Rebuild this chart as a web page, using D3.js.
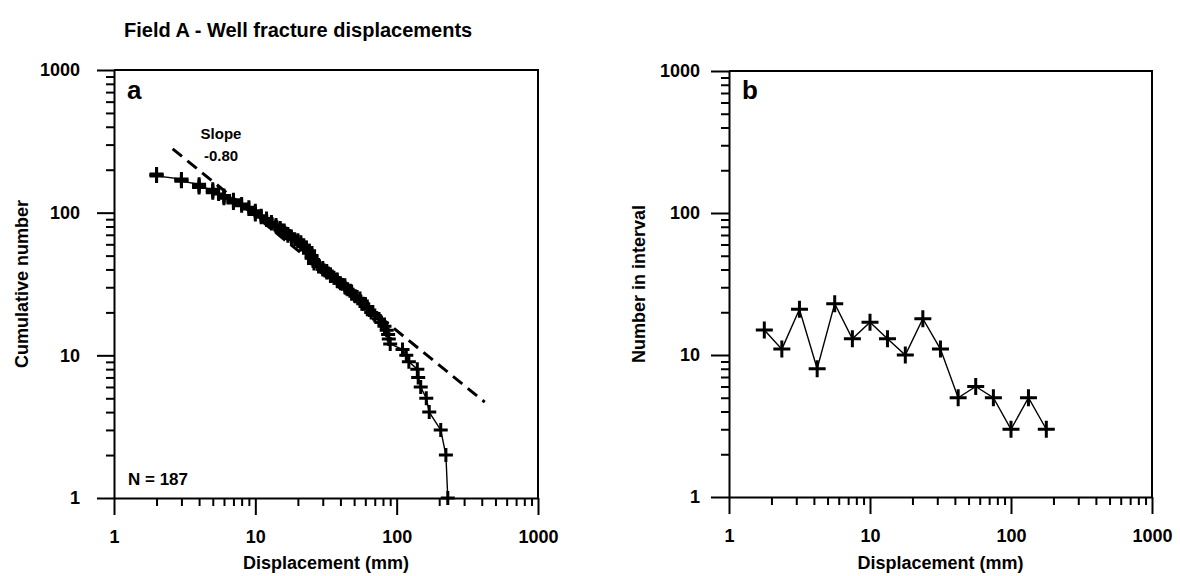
<!DOCTYPE html>
<html>
<head>
<meta charset="utf-8">
<script src="https://cdn.jsdelivr.net/npm/d3@7"></script>
<style>
  body { margin: 0; background: #fff; }
  svg text { font-family: "Liberation Sans", Arial, Helvetica, sans-serif; font-weight: bold; fill: #000; }
</style>
</head>
<body>
<div id="chart"></div>
<script>
// Panel a: cumulative number of fractures vs displacement (mm), one point per fracture
const cumDisp = [2, 2, 2, 3, 3, 3, 4, 4, 4, 5, 5, 5, 5.5, 6, 6, 6, 7, 7, 7, 8, 8, 9, 9,
  10, 10, 10, 11, 11, 12, 12, 13, 13, 14, 14, 15, 15, 16, 16, 17, 17, 18, 18, 19, 20, 20,
  21, 21, 22, 22, 23, 23, 24, 24, 25, 25, 26, 26, 28, 28, 30, 30, 32, 32, 34, 34, 36, 38, 38,
  40, 43, 43, 45, 48, 48, 51, 55, 55, 58, 62, 62, 66, 70, 75, 78, 82, 85, 87, 88, 90,
  110, 117, 122, 140, 142, 148, 162, 170, 205, 223, 230];
const cumCount = [187, 184, 181, 172, 169, 166, 158, 154, 150, 146, 142, 138, 135, 132, 129, 126, 123, 120, 117, 115, 112, 109, 106,
  103, 100, 97, 95, 93, 91, 89, 86, 84, 82, 80, 78, 76, 75, 73, 71, 69, 68, 66, 65, 64, 63,
  62, 60, 59, 58, 57, 55, 54, 52, 50, 48, 46, 44, 43, 42, 41, 40, 39, 38, 37, 36, 35, 34, 33,
  32, 31, 30, 29, 28, 27, 26, 25, 24, 23, 22, 21, 20, 19, 18, 17, 16, 15, 14, 13, 12,
  11, 10, 9, 8, 7, 6, 5, 4, 3, 2, 1];

// fitted power law, drawn between two end points
const slopeDisp = [2.6, 420];
const slopeCount = [280, 4.7];

// Panel b: number in each log interval
const binDisp = [1.78, 2.37, 3.16, 4.22, 5.62, 7.5, 10, 13.3, 17.8, 23.7, 31.6, 42.2, 56.2, 75, 100, 133, 178];
const binCount = [15, 11, 21, 8, 23, 13, 17, 13, 10, 18, 11, 5, 6, 5, 3, 5, 3];

const majorTicks = [1, 10, 100, 1000];
const minorTicks = [2, 3, 4, 5, 6, 7, 8, 9, 20, 30, 40, 50, 60, 70, 80, 90, 200, 300, 400, 500, 600, 700, 800, 900];

const svg = d3.select('#chart').append('svg')
  .attr('width', 1180)
  .attr('height', 576);

svg.append('text')
  .attr('x', 124)
  .attr('y', 37)
  .style('font-size', '20px')
  .text('Field A - Well fracture displacements');

function cross(x, y, s) {
  return 'M' + (x - s) + ',' + y + 'H' + (x + s) + 'M' + x + ',' + (y - s) + 'V' + (y + s);
}

function panel(box, opts) {
  let x = d3.scaleLog().domain([1, 1000]).range([box.left, box.right]);
  let y = d3.scaleLog().domain([1, 1000]).range([box.bottom, box.top]);
  let g = svg.append('g');

  // frame: top and right edges
  g.append('path')
    .attr('d', 'M' + box.left + ',' + box.top + 'H' + box.right + 'V' + box.bottom)
    .attr('fill', 'none')
    .attr('stroke', '#000')
    .attr('stroke-width', 2);

  // x axis, major ticks with labels then minor ticks
  g.append('g')
    .attr('transform', 'translate(0,' + box.bottom + ')')
    .call(d3.axisBottom(x).tickValues(majorTicks).tickFormat(d3.format('d'))
      .tickSize(17).tickSizeOuter(0).tickPadding(15));
  g.append('g')
    .attr('transform', 'translate(0,' + box.bottom + ')')
    .call(d3.axisBottom(x).tickValues(minorTicks).tickFormat('').tickSize(8).tickSizeOuter(0))
    .select('.domain').remove();

  g.append('g')
    .attr('transform', 'translate(' + box.left + ',0)')
    .call(d3.axisLeft(y).tickValues(majorTicks).tickFormat(d3.format('d'))
      .tickSize(opts.yTick).tickSizeOuter(0).tickPadding(opts.yPad));
  g.append('g')
    .attr('transform', 'translate(' + box.left + ',0)')
    .call(d3.axisLeft(y).tickValues(minorTicks).tickFormat('').tickSize(8).tickSizeOuter(0))
    .select('.domain').remove();

  g.selectAll('.domain, .tick line')
    .attr('stroke', '#000')
    .attr('stroke-width', 2);
  g.selectAll('.tick text')
    .style('font-size', '18px')
    .style('font-family', null);

  g.append('text')
    .attr('x', (box.left + box.right) / 2)
    .attr('y', 569)
    .attr('text-anchor', 'middle')
    .style('font-size', '18px')
    .text('Displacement (mm)');

  g.append('text')
    .attr('transform', 'translate(' + opts.titleX + ',' + ((box.top + box.bottom) / 2) + ') rotate(-90)')
    .attr('text-anchor', 'middle')
    .style('font-size', '18px')
    .text(opts.yTitle);

  g.append('text')
    .attr('x', box.left + 13)
    .attr('y', 99)
    .style('font-size', '26px')
    .text(opts.label);

  return {g: g, x: x, y: y};
}

// ---- panel a ----
let pa = panel({left: 114, right: 538, top: 70, bottom: 498},
  {yTick: 17, yPad: 17, titleX: 28, yTitle: 'Cumulative number', label: 'a'});

let cumData = cumDisp.map((d, i) => ({d: d, n: cumCount[i]}));

pa.g.append('path')
  .datum(slopeDisp.map((d, i) => ({d: d, n: slopeCount[i]})))
  .attr('fill', 'none')
  .attr('stroke', '#000')
  .attr('stroke-width', 3)
  .attr('stroke-dasharray', '12,7')
  .attr('d', d3.line().x((p) => pa.x(p.d)).y((p) => pa.y(p.n)));

pa.g.append('path')
  .datum(cumData)
  .attr('fill', 'none')
  .attr('stroke', '#000')
  .attr('stroke-width', 1.4)
  .attr('d', d3.line().x((p) => pa.x(p.d)).y((p) => pa.y(p.n)));

pa.g.append('g')
  .selectAll('path')
  .data(cumData)
  .enter().append('path')
  .attr('fill', 'none')
  .attr('stroke', '#000')
  .attr('stroke-width', 3)
  .attr('d', (p) => cross(pa.x(p.d), pa.y(p.n), 7));

pa.g.append('text')
  .attr('x', 221)
  .attr('y', 139)
  .attr('text-anchor', 'middle')
  .style('font-size', '15px')
  .text('Slope');
pa.g.append('text')
  .attr('x', 221)
  .attr('y', 161)
  .attr('text-anchor', 'middle')
  .style('font-size', '15px')
  .text('-0.80');

pa.g.append('text')
  .attr('x', 128)
  .attr('y', 485)
  .style('font-size', '17px')
  .text('N = 187');

// ---- panel b ----
let pb = panel({left: 729, right: 1152, top: 71, bottom: 497},
  {yTick: 18, yPad: 11, titleX: 645, yTitle: 'Number in interval', label: 'b'});

let binData = binDisp.map((d, i) => ({d: d, n: binCount[i]}));

pb.g.append('path')
  .datum(binData)
  .attr('fill', 'none')
  .attr('stroke', '#000')
  .attr('stroke-width', 1.4)
  .attr('d', d3.line().x((p) => pb.x(p.d)).y((p) => pb.y(p.n)));

pb.g.append('g')
  .selectAll('path')
  .data(binData)
  .enter().append('path')
  .attr('fill', 'none')
  .attr('stroke', '#000')
  .attr('stroke-width', 3)
  .attr('d', (p) => cross(pb.x(p.d), pb.y(p.n), 8.5));
</script>
</body>
</html>
